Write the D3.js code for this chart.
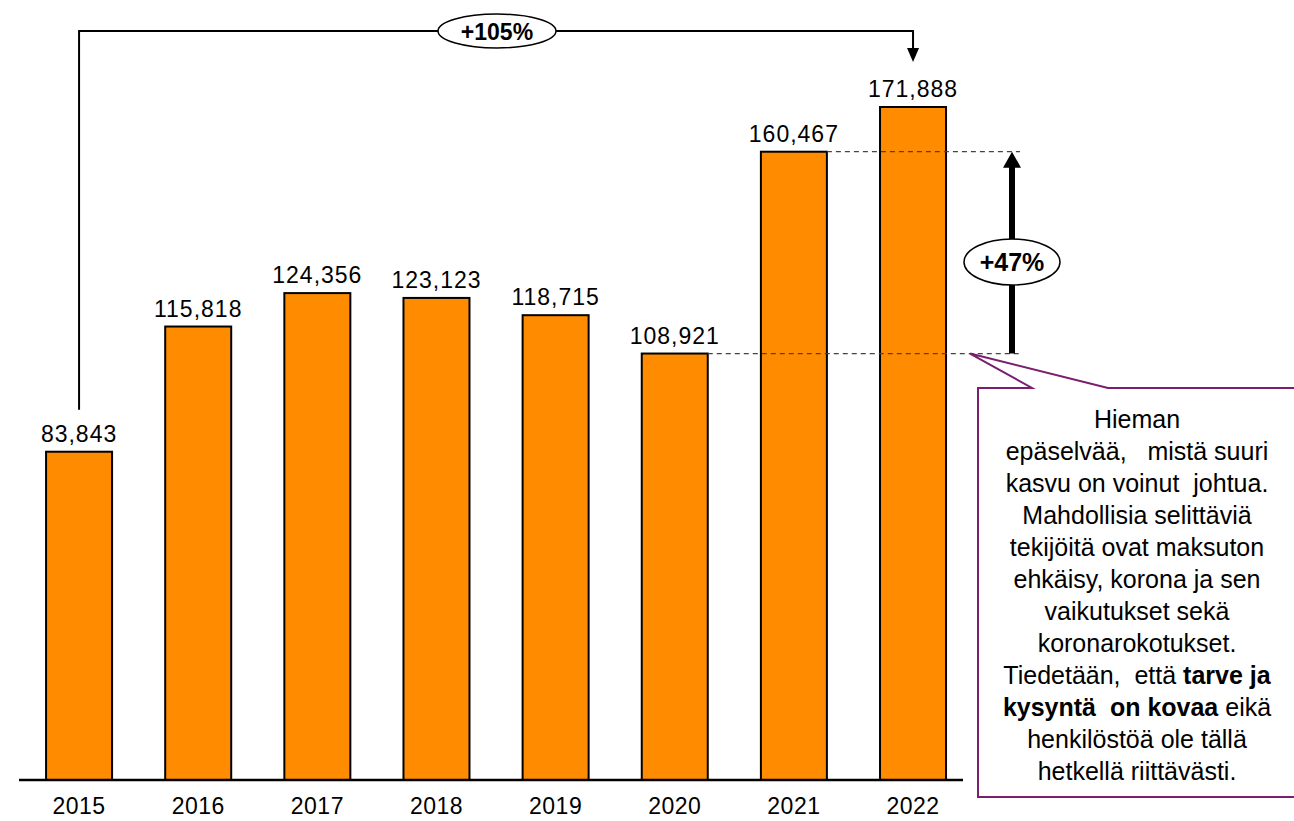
<!DOCTYPE html>
<html>
<head>
<meta charset="utf-8">
<script src="https://cdn.jsdelivr.net/npm/d3@7"></script>
<style>
  html, body { margin: 0; padding: 0; background: #fff; }
  svg { display: block; font-family: "Liberation Sans", Arial, sans-serif; }
</style>
</head>
<body>
<svg id="chart" width="1294" height="821"></svg>
<script>
const years = ["2015", "2016", "2017", "2018", "2019", "2020", "2021", "2022"];
const values = [83843, 115818, 124356, 123123, 118715, 108921, 160467, 171888];
const totalGrowthLabel = "+105%";
const recentGrowthLabel = "+47%";
const noteLines = [
  [["Hieman", false]],
  [["epäselvää,   mistä suuri", false]],
  [["kasvu on voinut  johtua.", false]],
  [["Mahdollisia selittäviä", false]],
  [["tekijöitä ovat maksuton", false]],
  [["ehkäisy, korona ja sen", false]],
  [["vaikutukset sekä", false]],
  [["koronarokotukset.", false]],
  [["Tiedetään,  että ", false], ["tarve ja", true]],
  [["kysyntä  on kovaa", true], [" eikä", false]],
  [["henkilöstöä ole tällä", false]],
  [["hetkellä riittävästi.", false]]
];

const svg = d3.select("#chart");
const fmt = d3.format(",");

const x = d3.scaleBand().domain(years).range([19.5, 972.6]).paddingInner(0.446).paddingOuter(0.223);
const y = d3.scaleLinear().domain([0, 171888]).range([780, 107]);
const cx = d => x(d) + x.bandwidth() / 2;

// bars
svg.append("g").selectAll("rect").data(values).join("rect")
  .attr("x", (d, i) => x(years[i]))
  .attr("y", d => y(d))
  .attr("width", x.bandwidth())
  .attr("height", d => y(0) - y(d))
  .attr("fill", "#FF8C00")
  .attr("stroke", "#000")
  .attr("stroke-width", 2);

// value labels
svg.append("g").selectAll("text").data(values).join("text")
  .attr("x", (d, i) => cx(years[i]))
  .attr("y", d => y(d) - 10)
  .attr("text-anchor", "middle")
  .attr("font-size", 23)
  .attr("letter-spacing", 1)
  .attr("fill", "#000")
  .text(d => fmt(d));

// x axis
const xAxis = svg.append("g").attr("transform", `translate(0,${y(0)})`)
  .call(d3.axisBottom(x).tickSize(0).tickPadding(18));
xAxis.select(".domain").remove();
xAxis.selectAll("text").attr("font-size", 23).attr("font-family", "Liberation Sans, Arial, sans-serif").attr("fill", "#000").attr("letter-spacing", 0.5);
svg.append("line").attr("x1", 19).attr("x2", 963).attr("y1", y(0)).attr("y2", y(0))
  .attr("stroke", "#000").attr("stroke-width", 2.5);

// top bracket +105%
const x0 = cx(years[0]), x7 = cx(years[7]);
const topY = 31;
svg.append("path")
  .attr("d", `M${x0},${y(values[0]) - 42} L${x0},${topY} L${x7},${topY} L${x7},${y(values[7]) - 52}`)
  .attr("fill", "none").attr("stroke", "#000").attr("stroke-width", 2);
const tipY = y(values[7]) - 45;
svg.append("path")
  .attr("d", `M${x7 - 6},${tipY - 14} L${x7 + 6},${tipY - 14} L${x7},${tipY} Z`)
  .attr("fill", "#000");
const ex = 497;
svg.append("ellipse").attr("cx", ex).attr("cy", topY).attr("rx", 59).attr("ry", 17)
  .attr("fill", "#fff").attr("stroke", "#000").attr("stroke-width", 1.5);
svg.append("text").attr("x", ex).attr("y", topY + 8.5).attr("text-anchor", "middle")
  .attr("font-size", 23).attr("font-weight", "bold").text(totalGrowthLabel);

// dashed reference lines
const y20 = y(values[5]), y21 = y(values[6]);
svg.append("line").attr("x1", x(years[5]) + x.bandwidth()).attr("x2", 1022).attr("y1", y20).attr("y2", y20)
  .attr("stroke", "#444").attr("stroke-width", 1.3).attr("stroke-dasharray", "5,4");
svg.append("line").attr("x1", x(years[6]) + x.bandwidth()).attr("x2", 1020).attr("y1", y21).attr("y2", y21)
  .attr("stroke", "#444").attr("stroke-width", 1.3).attr("stroke-dasharray", "5,4");

// +47% arrow
const ax = 1012;
svg.append("line").attr("x1", ax).attr("x2", ax).attr("y1", y20).attr("y2", y21 + 14)
  .attr("stroke", "#000").attr("stroke-width", 6);
svg.append("path").attr("d", `M${ax - 9},${y21 + 16} L${ax + 9},${y21 + 16} L${ax},${y21} Z`).attr("fill", "#000");
const eY = 262;
svg.append("ellipse").attr("cx", ax).attr("cy", eY).attr("rx", 48).attr("ry", 23)
  .attr("fill", "#fff").attr("stroke", "#000").attr("stroke-width", 1.5);
svg.append("text").attr("x", ax).attr("y", eY + 9).attr("text-anchor", "middle")
  .attr("font-size", 25).attr("font-weight", "bold").text(recentGrowthLabel);

// callout
const purple = "#7A1E6E";
svg.append("path")
  .attr("d", `M978,388 L1032,388 L970,${y20} L1108,388 L1297,388 L1297,797 L978,797 Z`)
  .attr("fill", "#fff").attr("stroke", purple).attr("stroke-width", 2);
const note = svg.append("text").attr("text-anchor", "middle").attr("font-size", 25)
  .attr("fill", "#000").style("white-space", "pre");
noteLines.forEach((segs, i) => {
  const t = note.append("tspan").attr("x", 1137).attr("y", 428 + i * 32);
  segs.forEach(s => {
    t.append("tspan").text(s[0]).attr("font-weight", s[1] ? "bold" : "normal");
  });
});
</script>
</body>
</html>
